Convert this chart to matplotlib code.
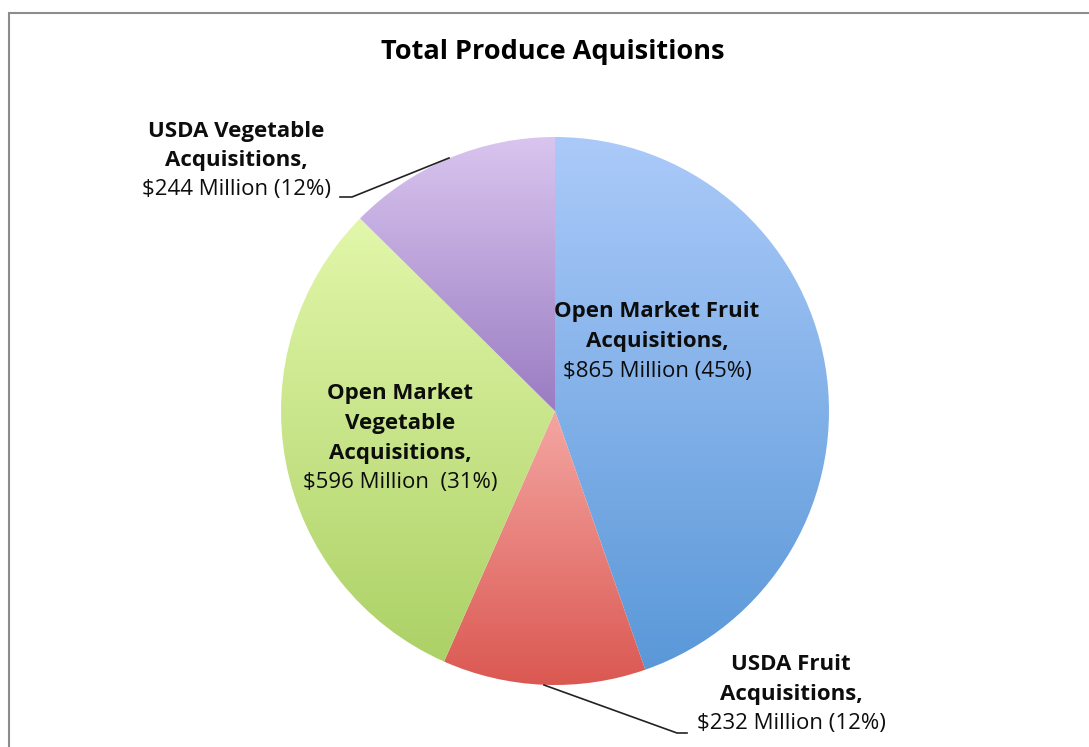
import numpy as np
import matplotlib.pyplot as plt
from matplotlib.colors import LinearSegmentedColormap
from matplotlib.patches import Rectangle

# data
labels = ["Open Market Fruit\nAcquisitions,", "USDA Fruit\nAcquisitions,",
          "Open Market\nVegetable\nAcquisitions,", "USDA Vegetable\nAcquisitions,"]
values = [865, 232, 596, 244]
value_text = ["$865 Million (45%)", "$232 Million (12%)",
              "$596 Million  (31%)", "$244 Million (12%)"]
top_colors = ["#abcaf9", "#f4a6a2", "#e2f7aa", "#d9c5ef"]
bottom_colors = ["#5a98d8", "#db5852", "#acd166", "#9a7cc2"]

plt.rcParams['font.family'] = ['Open Sans', 'DejaVu Sans']

W, H = 1089, 747
fig = plt.figure(figsize=(W / 100, H / 100), dpi=100)
ax = fig.add_axes([0, 0, 1, 1])

# frame around chart area
ax.add_patch(Rectangle((9, -20), W + 20, H - 13 + 20, fill=False,
                       edgecolor='#8c8c8c', lw=1.5))

cx, cy, r = 555, H - 411, 274
wedges, _ = ax.pie(values, startangle=90, counterclock=False,
                   center=(cx, cy), radius=r, frame=True,
                   wedgeprops=dict(linewidth=0))

# vertical gradient inside each wedge
for w, c0, c1 in zip(wedges, top_colors, bottom_colors):
    w.set_facecolor('none')
    ext = w.get_path().get_extents()
    cmap = LinearSegmentedColormap.from_list('g', [c1, c0])
    grad = np.linspace(0, 1, 256).reshape(-1, 1)
    im = ax.imshow(grad, cmap=cmap, origin='lower', aspect='auto',
                   extent=[ext.x0, ext.x1, ext.y0, ext.y1], zorder=1)
    im.set_clip_path(w)

ax.set_xlim(0, W)
ax.set_ylim(0, H)
ax.set_aspect('equal')
ax.axis('off')

ax.text(553, H - 52, "Total Produce Aquisitions", ha='center', va='center',
        fontsize=19.5, fontweight='bold', color='#000000')

fs = 16
lh = 29.5


def label(x, y_top, bold, normal, ha='center'):
    lines = bold.split('\n')
    for i, ln in enumerate(lines):
        ax.text(x, H - (y_top + i * lh), ln, ha=ha, va='center',
                fontsize=fs, fontweight='bold', color='#0d0d0d', zorder=5)
    ax.text(x, H - (y_top + len(lines) * lh), normal, ha=ha, va='center',
            fontsize=fs, color='#0d0d0d', zorder=5)


label(657, 312, labels[0], value_text[0])
label(791, 665, labels[1], value_text[1])
label(400, 394, labels[2], value_text[2])
label(236, 131, labels[3], value_text[3])

# leader lines
ax.plot([340, 352, 449], [H - 197, H - 197, H - 158], color='#222222', lw=1.2, zorder=4)
ax.plot([544, 677, 687], [H - 685, H - 733, H - 733], color='#222222', lw=1.2, zorder=4)

fig.savefig('out.png', dpi=100)
